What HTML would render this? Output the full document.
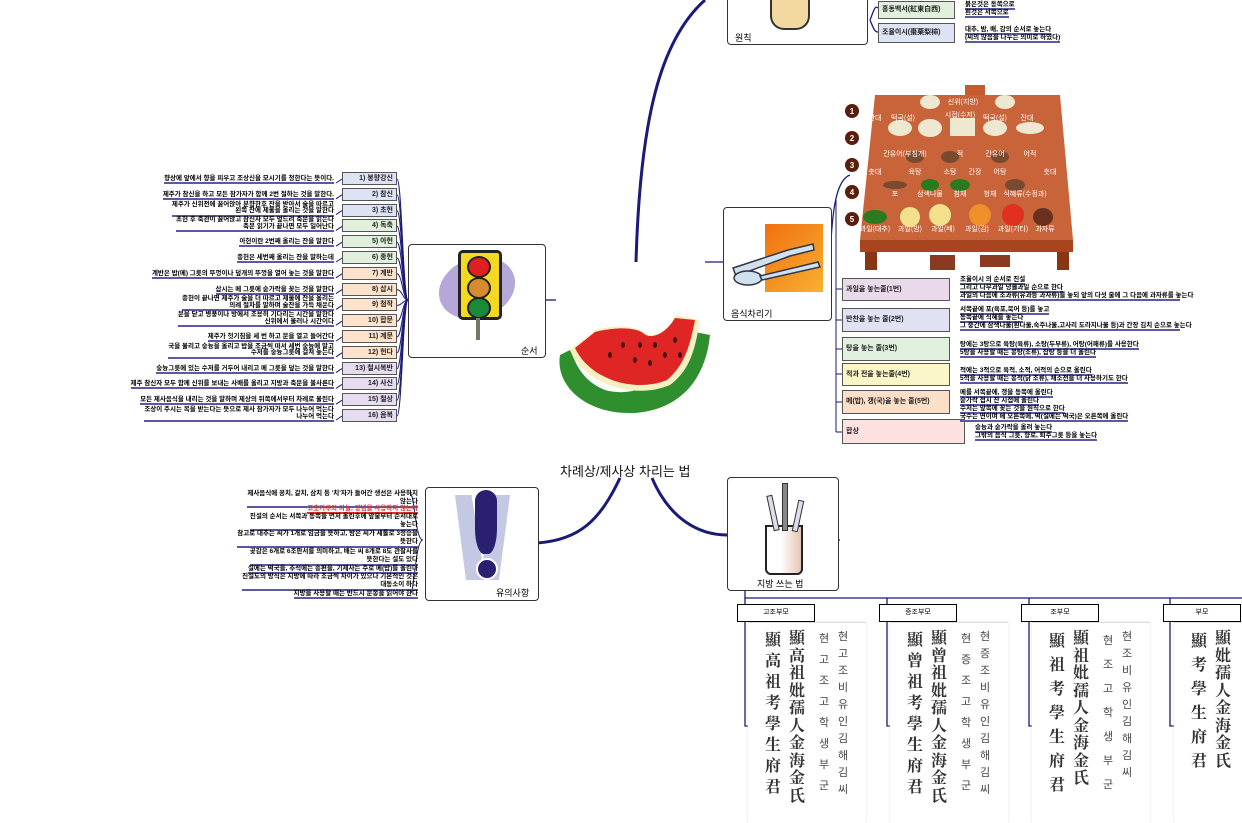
<!DOCTYPE html>
<html><head><meta charset="utf-8">
<style>
body{margin:0;width:1242px;height:779px;overflow:hidden;background:#fff;position:relative;font-family:"Liberation Sans","Noto Sans CJK KR",sans-serif;}
.a{position:absolute;}
.box{position:absolute;border:1px solid #333;border-radius:4px;background:#fff;}
.it{position:absolute;border:1px solid #555;font-size:7px;line-height:12px;box-sizing:border-box;padding:0 3px;white-space:nowrap;overflow:hidden;font-weight:bold;color:#222;}
.tx{position:absolute;font-size:6.5px;line-height:7px;white-space:nowrap;border-bottom:2px solid #5a5aa0;color:#000;font-weight:bold;}
.col{position:absolute;width:20px;text-align:center;font-family:"Noto Serif CJK SC","Noto Sans CJK KR",serif;font-weight:bold;font-size:16px;line-height:21px;color:#333;}
.colh{position:absolute;width:14px;text-align:center;font-family:"Noto Sans CJK KR",sans-serif;font-size:11px;line-height:21px;color:#444;}
.hd{position:absolute;border:1px solid #000;background:#fff;font-size:7px;text-align:center;line-height:16px;width:76px;height:16px;}
.tab{position:absolute;border-top:1px solid #ddd;width:118px;height:200px;background:#fff;box-shadow:0 0 2px #ddd;}
</style></head><body>
<svg class="a" style="left:0;top:0" width="1242" height="779">
<g fill="none" stroke="#1a1a7a" stroke-width="3">
<path d="M636 262 C640 120 660 40 705 0"/>
<path d="M620 478 C600 520 580 540 537 543"/>
<path d="M652 478 C670 520 700 535 727 535"/>
</g>
<g fill="none" stroke="#1a1a7a" stroke-width="1.3">
<path d="M705 262 L723 262"/>
<path d="M545 300 L556 300"/>
<path d="M830 260 C832 210 836 180 850 175"/>
<path d="M838 540 L840 540"/>
<path d="M745 590 L745 598 L1242 598"/>
<path d="M745 598 L745 726 L752 726"/>
<path d="M887 598 L887 726 L894 726"/>
<path d="M1029 598 L1029 726 L1036 726"/>
<path d="M1170 598 L1170 726 L1177 726"/>
<path d="M870 20 C874 10 875 5 878 8 M870 20 C874 30 875 32 878 32"/>
</g>
<g id="lc" fill="none" stroke="#1a1a7a" stroke-width="1">
<path d="M842 289 L836 289 M836 200 L836 432 M842 432 L836 432 M842 320 L836 320 M842 349 L836 349 M842 374 L836 374 M842 402 L836 402"/>
<path d="M423 540 C415 540 415 495 410 493 M423 540 C415 540 415 592 410 594"/>
</g>
</svg>

<!-- 원칙 -->
<div class="box" style="left:727px;top:-5px;width:139px;height:48px"></div>
<div class="a" style="left:770px;top:-2px;width:36px;height:30px;background:#f3d9a0;border:2px solid #333;border-radius:0 0 14px 14px;border-top:none"></div>
<div class="a" style="left:735px;top:31px;font-size:9px">원칙</div>
<div class="it" style="left:878px;top:1px;width:77px;height:18px;background:#e0f0dc;line-height:16px">홍동백서(紅東白西)</div>
<div class="it" style="left:878px;top:23px;width:77px;height:20px;background:#dde3f5;line-height:18px">조율이시(棗栗梨枾)</div>
<div class="tx" style="left:965px;top:1px">붉은것은 동쪽으로</div>
<div class="tx" style="left:965px;top:9px">흰것은 서쪽으로</div>
<div class="tx" style="left:965px;top:26px">대추, 밤, 배, 감의 순서로 놓는다</div>
<div class="tx" style="left:965px;top:34px">(씨의 많음을 나누는 의미로 하였다)</div>

<!-- food table -->
<svg class="a" style="left:835px;top:80px" width="240" height="195">
<rect x="130" y="5" width="20" height="22" fill="#c65a30"/>
<polygon points="40,15 225,15 238,160 25,160" fill="#c9643a"/>
<rect x="25" y="160" width="213" height="12" fill="#a8451f"/>
<rect x="30" y="172" width="12" height="18" fill="#8a3515"/><rect x="222" y="172" width="12" height="18" fill="#8a3515"/>
<g fill="#5a1e0c"><circle cx="17" cy="31" r="7"/><circle cx="17" cy="58" r="7"/><circle cx="17" cy="85" r="7"/><circle cx="17" cy="112" r="7"/><circle cx="17" cy="139" r="7"/></g>
<g fill="#fff" font-size="8" font-weight="bold" text-anchor="middle"><text x="17" y="34">1</text><text x="17" y="61">2</text><text x="17" y="88">3</text><text x="17" y="115">4</text><text x="17" y="142">5</text></g>
<g fill="#eee8d0"><ellipse cx="65" cy="48" rx="12" ry="8"/><ellipse cx="95" cy="48" rx="12" ry="9"/><rect x="115" y="38" width="25" height="18"/><ellipse cx="160" cy="48" rx="12" ry="8"/><ellipse cx="195" cy="48" rx="14" ry="6"/>
<ellipse cx="95" cy="22" rx="10" ry="7"/><ellipse cx="170" cy="22" rx="10" ry="7"/></g>
<g fill="#7a4a30"><ellipse cx="80" cy="77" rx="9" ry="6"/><ellipse cx="115" cy="77" rx="9" ry="6"/><ellipse cx="165" cy="77" rx="9" ry="6"/><ellipse cx="60" cy="105" rx="12" ry="4"/><ellipse cx="180" cy="105" rx="10" ry="6"/></g>
<g fill="#2a7a20"><ellipse cx="40" cy="137" rx="12" ry="7"/><ellipse cx="125" cy="105" rx="10" ry="6"/><ellipse cx="95" cy="105" rx="9" ry="6"/></g>
<g fill="#f2e08a"><circle cx="105" cy="135" r="11"/><circle cx="75" cy="137" r="10"/></g>
<g fill="#f0902a"><circle cx="145" cy="135" r="11"/></g><g fill="#e03020"><circle cx="178" cy="135" r="11"/></g>
<g fill="#6a3020"><ellipse cx="208" cy="137" rx="10" ry="9"/></g>
<g fill="#fff" font-size="7" text-anchor="middle" font-family="Noto Sans CJK KR,sans-serif">
<text x="128" y="24">신위(지방)</text><text x="40" y="40">잔대</text><text x="68" y="40">떡국(설)</text><text x="125" y="37">시접(수저)</text><text x="160" y="40">떡국(설)</text><text x="192" y="40">잔대</text>
<text x="70" y="76">간유어(부침개)</text><text x="125" y="76">적</text><text x="160" y="76">간유어</text><text x="195" y="76">어적</text>
<text x="40" y="94">촛대</text><text x="80" y="94">육탕</text><text x="115" y="94">소탕</text><text x="140" y="94">간장</text><text x="165" y="94">어탕</text><text x="215" y="94">촛대</text>
<text x="60" y="116">포</text><text x="95" y="116">삼색나물</text><text x="125" y="116">침채</text><text x="155" y="116">청채</text><text x="190" y="116">식혜류(수정과)</text>
<text x="40" y="151">과일(대추)</text><text x="75" y="151">과일(밤)</text><text x="108" y="151">과일(배)</text><text x="142" y="151">과일(감)</text><text x="178" y="151">과일(기타)</text><text x="210" y="151">과자류</text></g>
<rect x="95" y="175" width="25" height="15" fill="#8a3a20"/><rect x="145" y="175" width="30" height="12" fill="#8a3a20"/>
</svg>

<!-- 음식차리기 -->
<div class="box" style="left:723px;top:207px;width:107px;height:112px"></div>
<div class="a" style="left:765px;top:224px;width:58px;height:68px;background:linear-gradient(135deg,#f07010,#f8b030)"></div>
<svg class="a" style="left:728px;top:230px" width="100" height="60"><g fill="#cfe0ef" stroke="#334" stroke-width="1.5"><path d="M5 38 L60 20 L85 14 L86 20 L62 26 L8 46 Z"/><ellipse cx="20" cy="48" rx="14" ry="7"/><path d="M32 46 L90 32 L92 37 L34 50Z"/></g></svg>
<div class="a" style="left:731px;top:307px;font-size:9px">음식차리기</div>
<div class="it" style="left:842px;top:278px;width:108px;height:23px;background:#ead9ea;line-height:21px">과일을 놓는줄(1번)</div>
<div class="it" style="left:842px;top:308px;width:108px;height:24px;background:#e0e1f3;line-height:22px">반찬을 놓는 줄(2번)</div>
<div class="it" style="left:842px;top:337px;width:108px;height:24px;background:#e0f1dd;line-height:22px">탕을 놓는 줄(3번)</div>
<div class="it" style="left:842px;top:363px;width:108px;height:23px;background:#fbf6c8;line-height:21px">적과 전을 놓는줄(4번)</div>
<div class="it" style="left:842px;top:390px;width:108px;height:24px;background:#fbdfc8;line-height:22px">메(밥), 갱(국)을 놓는 줄(5번)</div>
<div class="it" style="left:842px;top:419px;width:123px;height:25px;background:#fde0e0;line-height:23px">합상</div>
<div class="tx" style="left:960px;top:276px">조율이시 의 순서로 진설</div>
<div class="tx" style="left:960px;top:284px">그리고 나무과일 넝쿨과일 순으로 한다</div>
<div class="tx" style="left:960px;top:292px;width:220px">과일의 다음에 조과류(유과등 과자류)를 놓되 앞의 다섯 줄에 그 다음에 과자류를 놓는다</div>
<div class="tx" style="left:960px;top:306px">서쪽끝에 포(육포,북어 등)를 놓고</div>
<div class="tx" style="left:960px;top:314px">동쪽끝에 식혜를 놓는다</div>
<div class="tx" style="left:960px;top:322px;width:220px">그 중간에 삼색나물(흰나물,숙주나물,고사리 도라지나물 등)과 간장 김치 순으로 놓는다</div>
<div class="tx" style="left:960px;top:341px">탕에는 3탕으로 육탕(육류), 소탕(두부류), 어탕(어패류)를 사용한다</div>
<div class="tx" style="left:960px;top:349px">5탕을 사용할 때는 봉탕(조류), 잡탕 등을 더 올린다</div>
<div class="tx" style="left:960px;top:367px">적에는 3적으로 육적, 소적, 어적의 순으로 올린다</div>
<div class="tx" style="left:960px;top:375px">5적을 사용할 때는 봉적(닭 조류), 채소전을 더 사용하기도 한다</div>
<div class="tx" style="left:960px;top:389px">메를 서쪽끝에, 갱을 동쪽에 올린다</div>
<div class="tx" style="left:960px;top:397px">숟가락 접시 잔 시접에 올린다</div>
<div class="tx" style="left:960px;top:405px">수저는 앞쪽에 꽂는 것을 원칙으로 한다</div>
<div class="tx" style="left:960px;top:413px">국수는 면이며 메 오른쪽에, 떡(설에는 떡국)은 오른쪽에 올린다</div>
<div class="tx" style="left:975px;top:424px">숭늉과 숟가락을 올려 놓는다</div>
<div class="tx" style="left:975px;top:432px">그밖의 음식 그릇, 향로, 퇴주그릇 등을 놓는다</div>

<!-- 순서 -->
<div class="box" style="left:408px;top:244px;width:136px;height:112px"></div>
<div class="a" style="left:438px;top:258px;width:78px;height:60px;border-radius:50%;background:#b5a8d8;transform:rotate(-20deg)"></div>
<div class="a" style="left:458px;top:250px;width:38px;height:64px;background:#f5d820;border:3px solid #222;border-radius:5px"></div>
<div class="a" style="left:467px;top:256px;width:20px;height:18px;border-radius:50%;background:#e02020;border:2px solid #222"></div>
<div class="a" style="left:467px;top:277px;width:20px;height:18px;border-radius:50%;background:#d88a30;border:2px solid #222"></div>
<div class="a" style="left:467px;top:297px;width:20px;height:18px;border-radius:50%;background:#1a8a3a;border:2px solid #222"></div>
<div class="a" style="left:476px;top:318px;width:4px;height:22px;background:#776"></div>
<div class="a" style="left:521px;top:344px;font-size:9px">순서</div>

<div id="left"></div>

<!-- watermelon -->
<svg class="a" style="left:555px;top:315px" width="160" height="105">
<path d="M5 40 C0 70 30 100 80 98 C120 95 150 70 155 20 L130 15 C125 60 85 85 50 75 C25 65 20 45 15 35 Z" fill="#2f8f2f"/>
<path d="M15 35 C30 70 80 85 115 70 C135 55 140 35 145 5 L120 0 C115 15 100 25 90 18 C80 10 60 10 40 15 Z" fill="#f4f0c0"/>
<path d="M20 33 C35 65 80 78 112 65 C130 50 135 30 140 5 L120 3 C110 20 95 25 88 18 C80 12 60 12 40 17 Z" fill="#e02525"/>
<g fill="#4a1010"><ellipse cx="68" cy="30" rx="2" ry="3"/><ellipse cx="80" cy="45" rx="2" ry="3"/><ellipse cx="95" cy="48" rx="2" ry="3"/><ellipse cx="110" cy="40" rx="2" ry="3"/><ellipse cx="120" cy="25" rx="2" ry="3"/><ellipse cx="55" cy="40" rx="2" ry="3"/><ellipse cx="100" cy="30" rx="2" ry="3"/><ellipse cx="125" cy="40" rx="2" ry="3"/><ellipse cx="85" cy="30" rx="2" ry="3"/></g>
</svg>
<div class="a" style="left:560px;top:461px;font-size:13px;color:#111">차례상/제사상 차리는 법</div>

<!-- 유의사항 -->
<div class="box" style="left:425px;top:487px;width:112px;height:112px"></div>
<div class="a" style="left:455px;top:495px;width:55px;height:85px;background:#c5c8e3;clip-path:polygon(0 0,30% 0,50% 80%,70% 0,100% 0,80% 100%,20% 100%)"></div>
<div class="a" style="left:475px;top:490px;width:22px;height:64px;background:#2a2070;border-radius:11px 11px 40% 40%"></div>
<div class="a" style="left:476px;top:558px;width:18px;height:18px;border-radius:50%;background:#2a2070;border:2px solid #fff"></div>
<div class="a" style="left:496px;top:586px;font-size:9px">유의사항</div>
<div id="caut"></div>

<!-- 지방 -->
<div class="box" style="left:727px;top:477px;width:110px;height:112px"></div>
<div class="a" style="left:765px;top:525px;width:34px;height:46px;background:linear-gradient(90deg,#fff 40%,#e5c5b5);border:2px solid #222;border-radius:0 0 6px 6px"></div>
<div class="a" style="left:782px;top:483px;width:4px;height:46px;background:#888;border:1px solid #333"></div>
<div class="a" style="left:770px;top:495px;width:4px;height:34px;background:#dde;border:1px solid #333;transform:rotate(-12deg)"></div>
<div class="a" style="left:795px;top:500px;width:4px;height:30px;background:#dde;border:1px solid #333;transform:rotate(12deg)"></div>
<div class="a" style="left:757px;top:577px;font-size:9px">지방 쓰는 법</div>

<div id="tabs"></div>
<script>
var L=[["1) 봉향강신","#dde3f5","향상에 앞에서 향을 피우고 조상신을 모시기를 청한다는 뜻이다."],["2) 참신","#dde3f5","제주가 참신을 하고 모든 참가자가 함께 2번 절하는 것을 말한다."],["3) 초헌","#dde3f5","제주가 신위전에 꿇어앉아 분향한후 잔을 받아서 술을 따르고|왼쪽 잔에 제물을 올리는 것을 말한다"],["4) 독축","#e0f0dc","초헌 후 축관이 꿇어앉고 참신자 모두 엎드려 축문을 읽는다|축문 읽기가 끝나면 모두 일어난다"],["5) 아헌","#e0f0dc","아헌이란 2번째 올리는 잔을 말한다"],["6) 종헌","#e0f0dc","종헌은 세번째 올리는 잔을 말하는데"],["7) 계반","#fde2cc","계반은 밥(메) 그릇의 뚜껑이나 덮개의 뚜껑을 열어 놓는 것을 말한다"],["8) 삽시","#fde2cc","삽시는 메 그릇에 숟가락을 꽂는 것을 말한다"],["9) 첨작","#fde2cc","종헌이 끝나면 제주가 술을 더 따르고 제물에 잔을 올리는|의례 절차를 말하며 술잔을 가득 채운다"],["10) 합문","#fde2cc","문을 닫고 병풍이나 방에서 조용히 기다리는 시간을 말한다|신위에서 물러나 시간이다"],["11) 계문","#fde2cc","제주가 헛기침을 세 번 하고 문을 열고 들어간다"],["12) 헌다","#fde2cc","국을 물리고 숭늉을 올리고 밥을 조금씩 떠서 세번 숭늉에 말고|수저를 숭늉그릇에 걸쳐 놓는다"],["13) 철시복반","#e6dcef","숭늉그릇에 있는 수저를 거두어 내리고 메 그릇을 덮는 것을 말한다"],["14) 사신","#e6dcef","제주 참신자 모두 함께 신위를 보내는 사배를 올리고 지방과 축문을 불사른다"],["15) 철상","#e6dcef","모든 제사음식을 내리는 것을 말하며 제상의 뒤쪽에서부터 차례로 물린다"],["16) 음복","#e6dcef","조상이 주시는 복을 받는다는 뜻으로 제사 참가자가 모두 나누어 먹는다|나누어 먹는다"]];
var h="",p="";L.forEach(function(r,i){var y=172+i*15.8;h+='<div class="it" style="left:342px;top:'+y+'px;width:55px;height:13px;background:'+r[1]+';text-align:right">'+r[0]+'</div>';var cy=y+7;p+='<path d="M408 300 C403 300 402 '+cy+' 397 '+cy+'"/><path d="M342 '+cy+' L336 '+(cy+4)+'"/>';var t=r[2].split("|");if(t.length>1){h+='<div class="tx" style="right:'+(1242-334)+'px;top:'+(y-2)+'px;text-align:right;line-height:6.5px">'+t[0]+'<br>'+t[1]+'</div>';}else{h+='<div class="tx" style="right:'+(1242-334)+'px;top:'+(y+3)+'px">'+t[0]+'</div>';}});
document.getElementById("left").innerHTML=h;
document.getElementById("lc").innerHTML+=p;
var C=[["제사음식에 꽁치, 갈치, 삼치 등 '치'자가 들어간 생선은 사용하지|않는다",490],["고춧가루와 마늘, 양념을 사용하지 않는다",505],["진설의 순서는 서쪽과 동쪽을 먼저 올린후에 앞줄부터 순서대로|놓는다",513],["참고로 대추는 씨가 1개로 임금을 뜻하고, 밤은 씨가 세톨로 3정승을|뜻한다",530],["곶감은 6개로 6조판서를 의미하고, 배는 씨 8개로 8도 관찰사를|뜻한다는 설도 있다",548],["설에는 떡국을, 추석에는 송편을, 기제사는 주로 메(밥)를 올린다",565],["진설도의 방식은 지방에 따라 조금씩 차이가 있으나 기본적인 것은|대동소이 하다",573],["지방을 사용할 때는 반드시 문종을 읽어야 한다",590]];
h="";C.forEach(function(c,i){var t=c[0].split("|");var st=i==1?'color:#e03030;border-color:#e03030;':'';h+='<div class="tx" style="right:'+(1242-418)+'px;top:'+c[1]+'px;text-align:right;'+st+(t.length>1?'line-height:8px':'')+'">'+t[0]+(t.length>1?'<br>'+t[1]:'')+'</div>';});
document.getElementById("caut").innerHTML=h;
var T=[["고조부모","顯高祖考學生府君","顯高祖妣孺人金海金氏","현고조고학생부군","현고조비유인김해김씨"],["증조부모","顯曾祖考學生府君","顯曾祖妣孺人金海金氏","현증조고학생부군","현증조비유인김해김씨"],["조부모","顯祖考學生府君","顯祖妣孺人金海金氏","현조고학생부군","현조비유인김해김씨"],["부모","顯考學生府君","顯妣孺人金海金氏","현고학생부군","현비유인김해김씨"]];
h="";T.forEach(function(t,i){var x=737+i*142;h+='<div class="tab" style="left:'+(x+11)+'px;top:622px"></div><div class="hd" style="left:'+x+'px;top:604px">'+t[0]+'</div>';var cols=[[x+26,t[1],'col',21],[x+50,t[2],'col',17.5],[x+80,t[3],'colh',21],[x+99,t[4],'colh',17]];cols.forEach(function(c){var s=c[1].split("").join("<br>");var lh=c[3];if(c[1].length<=7)lh=24;h+='<div class="'+c[2]+'" style="left:'+c[0]+'px;top:628px;line-height:'+lh+'px">'+s+'</div>';});});
document.getElementById("tabs").innerHTML=h;
</script>
</body></html>
